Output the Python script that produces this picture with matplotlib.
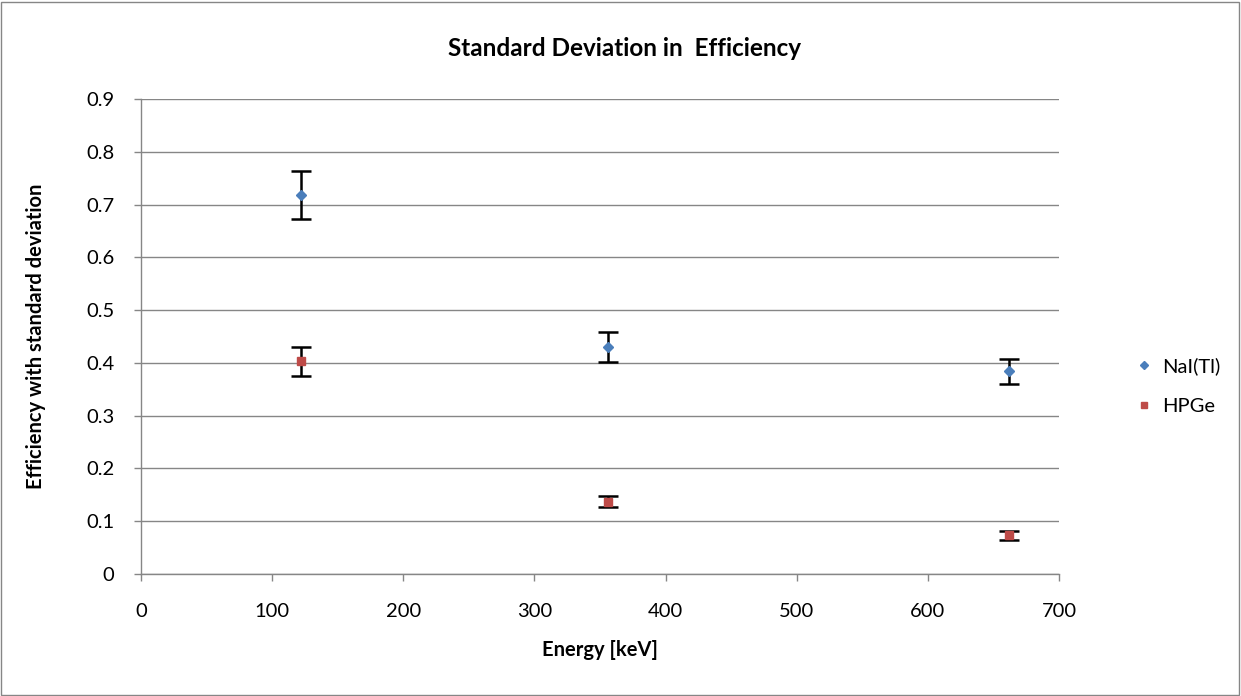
import matplotlib
matplotlib.use('Agg')
import matplotlib.pyplot as plt
from matplotlib.patches import Rectangle

plt.rcParams['font.family'] = ['Lato', 'DejaVu Sans']

# data
energy = [122, 356, 662]
nai_eff = [0.718, 0.430, 0.384]
nai_err = [0.045, 0.028, 0.024]
hpge_eff = [0.403, 0.137, 0.073]
hpge_err = [0.027, 0.010, 0.008]

W, H = 1241, 696
fig = plt.figure(figsize=(W / 100, H / 100), dpi=100)
ax = fig.add_axes([141 / W, 1 - 574 / H, (1059 - 141) / W, (574 - 99) / H])

grid_col = '#868686'

ax.errorbar(energy, nai_eff, yerr=nai_err, fmt='D', color='#4A7EBB', ms=5,
            ecolor='black', elinewidth=1.8, capsize=7, capthick=1.8,
            label='NaI(Tl)', zorder=3)
ax.errorbar(energy, hpge_eff, yerr=hpge_err, fmt='s', color='#BE4B48', ms=6,
            ecolor='black', elinewidth=1.8, capsize=7, capthick=1.8,
            label='HPGe', zorder=3)

ax.set_xlim(0, 700)
ax.set_ylim(0, 0.9)
ax.set_xticks(range(0, 701, 100))
ax.set_yticks([i / 10 for i in range(10)])
ax.set_yticklabels(['0'] + ['%.1f' % (i / 10) for i in range(1, 10)])
ax.tick_params(labelsize=14.5, color=grid_col, length=5, width=1)
ax.tick_params(axis='x', pad=16)
ax.tick_params(axis='y', pad=14)
ax.yaxis.grid(True, color=grid_col, linewidth=1)
ax.set_axisbelow(True)
for s in ['top', 'right']:
    ax.spines[s].set_visible(False)
for s in ['left', 'bottom']:
    ax.spines[s].set_color(grid_col)
    ax.spines[s].set_linewidth(1)

ax.set_xlabel('Energy [keV]', fontsize=14.5, fontweight='bold', labelpad=14)
ax.set_ylabel('Efficiency with standard deviation', fontsize=14.5,
              fontweight='bold', labelpad=29)
fig.text(625 / W, 1 - 48 / H, 'Standard Deviation in  Efficiency', fontsize=17.5,
         fontweight='bold', ha='center', va='center')

handles, labels = ax.get_legend_handles_labels()
handles = [h[0] for h in handles]
fig.legend(handles, labels, loc='center left', bbox_to_anchor=(1118 / W, 1 - 386 / H),
           frameon=False, fontsize=14.5, handlelength=0.8, handletextpad=0.5,
           labelspacing=1.1, markerscale=0.8)

fig.patches.append(Rectangle((1 / W, 1 / H), 1 - 3 / W, 1 - 3 / H,
                             transform=fig.transFigure, fill=False,
                             edgecolor='#868686', linewidth=1))

fig.savefig('out.png', dpi=100)
